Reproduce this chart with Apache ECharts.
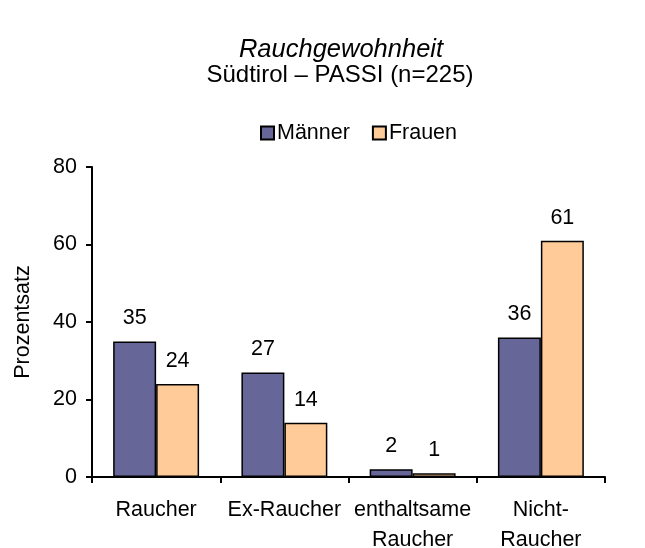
<!DOCTYPE html>
<html lang="de">
  <head>
    <meta charset="UTF-8" />
    <title>Rauchgewohnheit</title>
    <script src="https://cdn.jsdelivr.net/npm/echarts@6.0.0/dist/echarts.min.js"></script>
    <style>
      body { margin: 0; background: #fff; }
      #chart { width: 645px; height: 548px; }
    </style>
  </head>
  <body>
    <div id="chart"></div>
    <script>
      var categories = ["Raucher", "Ex-Raucher", "enthaltsame\nRaucher", "Nicht-\nRaucher"];
      var maenner = [35, 27, 2, 36];
      var frauen = [24, 14, 1, 61];
      var yTicks = [0, 20, 40, 60, 80];

      var font = "Arial, 'Liberation Sans', sans-serif";
      var fs = 21.5;
      var chart = echarts.init(document.getElementById("chart"));

      function barSeries(name, data, color) {
        return {
          name: name,
          type: "bar",
          data: data,
          barGap: "0%",
          barCategoryGap: "33%",
          itemStyle: { color: color, borderColor: "#000", borderWidth: 1.5 },
          label: {
            show: true,
            position: "top",
            distance: 12,
            color: "#000",
            fontSize: fs,
            fontFamily: font
          }
        };
      }

      var option = {
        animation: false,
        title: [
          {
            text: "Rauchgewohnheit",
            left: 336,
            top: 32,
            textAlign: "center",
            textStyle: { fontSize: 25.5, fontStyle: "italic", fontWeight: "normal", color: "#000", fontFamily: font }
          },
          {
            text: "Südtirol – PASSI (n=225)",
            left: 335,
            top: 58,
            textAlign: "center",
            textStyle: { fontSize: 24, fontWeight: "normal", color: "#000", fontFamily: font }
          }
        ],
        legend: {
          data: ["Männer", "Frauen"],
          left: 255,
          top: 117,
          itemWidth: 13,
          itemHeight: 13,
          itemGap: 22,
          icon: "rect",
          textStyle: { fontSize: fs, color: "#000", fontFamily: font, padding: [0, 0, 0, -2] }
        },
        grid: { left: 92, right: 40, top: 167, bottom: 71, outerBoundsMode: "none" },
        xAxis: {
          type: "category",
          data: categories,
          axisLine: { lineStyle: { color: "#000", width: 2 } },
          axisTick: { show: true, length: 6, lineStyle: { color: "#000", width: 2 } },
          axisLabel: { color: "#000", fontSize: fs, fontFamily: font, margin: 18, lineHeight: 30, interval: 0 }
        },
        yAxis: {
          type: "value",
          min: yTicks[0],
          max: yTicks[yTicks.length - 1],
          interval: yTicks[1] - yTicks[0],
          name: "Prozentsatz",
          nameLocation: "middle",
          nameGap: 58,
          nameTextStyle: { fontSize: fs, color: "#000", fontFamily: font },
          splitLine: { show: false },
          axisLine: { show: true, lineStyle: { color: "#000", width: 2 } },
          axisTick: { show: true, length: 6, lineStyle: { color: "#000", width: 2 } },
          axisLabel: { color: "#000", fontSize: fs, fontFamily: font, margin: 15 }
        },
        series: [
          barSeries("Männer", maenner, "#666699"),
          barSeries("Frauen", frauen, "#FFCC99")
        ]
      };

      chart.setOption(option);
    </script>
  </body>
</html>
